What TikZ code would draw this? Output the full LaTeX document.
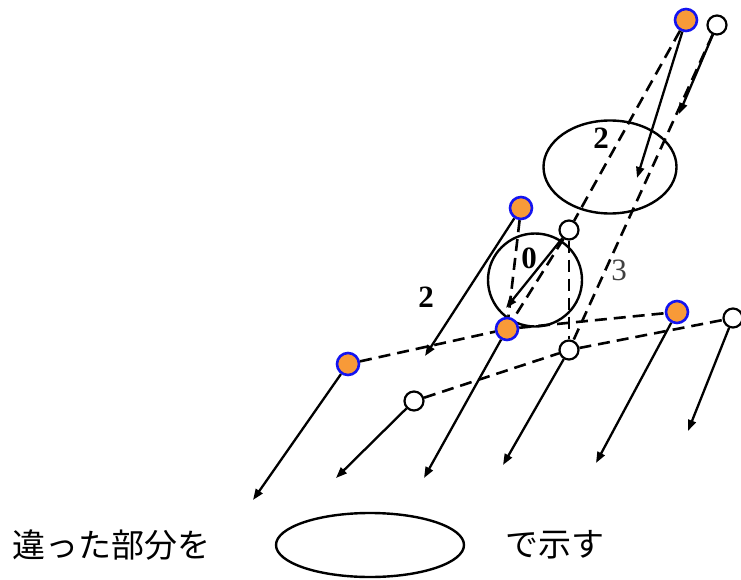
\documentclass[tikz,border=0pt]{standalone}
\usepackage{fontspec}
\setmainfont{Liberation Serif}
\newfontfamily\jpfont{Noto Sans CJK JP}
\usetikzlibrary{arrows.meta,shapes.geometric}
\definecolor{dotorange}{HTML}{F89A38}
\definecolor{dotblue}{HTML}{1414F0}
\begin{document}
\begin{tikzpicture}[x=1pt,y=-1pt,
  odot/.style={circle,draw=dotblue,fill=dotorange,line width=2.6pt,minimum size=22pt,inner sep=0pt},
  wdot/.style={circle,draw=black,fill=white,line width=2.2pt,minimum size=19pt,inner sep=0pt},
  solidarrow/.style={line width=2.3pt,-{Triangle[length=11pt,width=8pt]}},
  dashline/.style={line width=2.6pt,dash pattern=on 12pt off 7pt},
  ring/.style={ellipse,draw,line width=2.4pt,inner sep=0pt},
  lbl/.style={font=\bfseries\fontsize{31}{31}\selectfont,inner sep=0pt},
  jtext/.style={font=\jpfont\fontsize{33}{33}\selectfont,anchor=west,inner sep=0pt}]
\useasboundingbox (0,0) rectangle (741,580);

% ellipses
\node[ring,minimum width=133pt,minimum height=93pt] (ell2) at (610,167) {};
\node[ring,minimum width=94pt,minimum height=93pt] (ell0) at (535,280) {};
\node[ring,minimum width=188pt,minimum height=64pt] (legend) at (370,545) {};

% labels
\node[lbl] (l2a) at (601,138) {2};
\node[lbl] (l0) at (529,258) {0};
\node[lbl] (l2b) at (426,297) {2};
\node[font=\fontsize{31}{31}\selectfont,inner sep=0pt,text=black!75] (l3) at (619,270) {3};

% joints
\node[odot] (A) at (686,20) {};
\node[odot] (B) at (521,208) {};
\node[odot] (C) at (507,329) {};
\node[odot] (D) at (348,364) {};
\node[odot] (E) at (677,312) {};
\node[wdot] (a) at (717,25) {};
\node[wdot] (b) at (569,230) {};
\node[wdot] (c) at (569,350) {};
\node[wdot] (d) at (414,401) {};
\node[wdot] (e) at (733,318) {};

% arrow tips
\coordinate (tA) at (637,178);
\coordinate (ta) at (679,114);
\coordinate (tB) at (425,356);
\coordinate (tb) at (506,308);
\coordinate (tD) at (253,500);
\coordinate (td) at (336,478);
\coordinate (tC) at (424,478);
\coordinate (tc) at (503,465);
\coordinate (tE) at (596,463);
\coordinate (te) at (688,431);

% dashed links
\draw[dashline] (A) -- (b);
\draw[dashline] (a) -- (c);
\draw[dashline] (B) -- (C);
\draw[dashline] (b) -- (C);
\draw[dashline] (b) -- (c);
\draw[dashline] (D) -- (C);
\draw[dashline] (C) -- (E);
\draw[dashline] (d) -- (c);
\draw[dashline] (c) -- (e);

% solid arrows
\draw[solidarrow] (A) -- (tA);
\draw[solidarrow] (a) -- (ta);
\draw[solidarrow] (B) -- (tB);
\draw[solidarrow] (b) -- (tb);
\draw[solidarrow] (D) -- (tD);
\draw[solidarrow] (d) -- (td);
\draw[solidarrow] (C) -- (tC);
\draw[solidarrow] (c) -- (tc);
\draw[solidarrow] (E) -- (tE);
\draw[solidarrow] (e) -- (te);

% legend text
\node[jtext] (t1) at (12,545) {違った部分を};
\node[jtext] (t2) at (505,545) {で示す};
\end{tikzpicture}
\end{document}
